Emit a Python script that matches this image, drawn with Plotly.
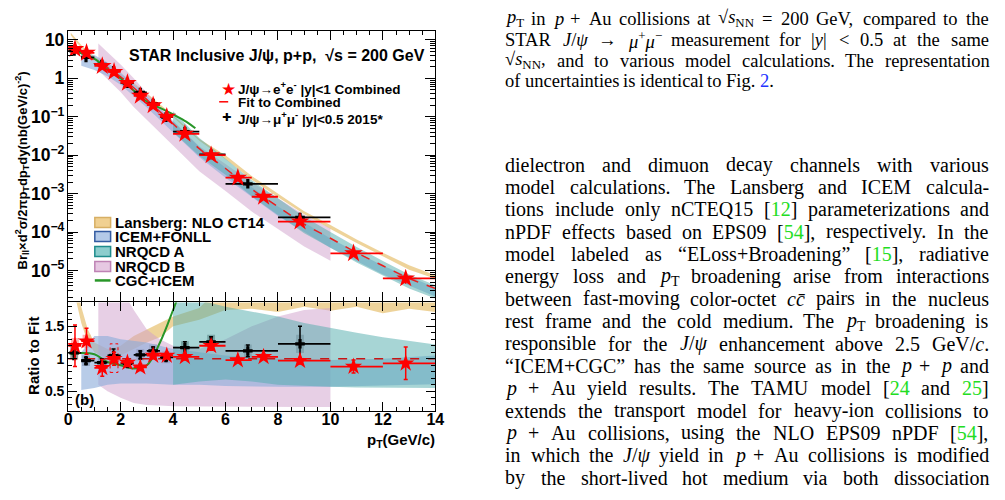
import re
import plotly.graph_objects as go

W, H = 1005, 500

# ---------------- data ----------------
# J/psi -> e+e- |y|<1 combined
ee_pt = [0.26, 0.70, 1.30, 1.75, 2.26, 2.75, 3.24, 3.76, 4.45, 5.45, 6.47, 7.45, 8.84, 10.88, 12.87]
ee_bin_lo = [0, 0.5, 1, 1.5, 2, 2.5, 3, 3.5, 4, 5, 6, 7, 8, 10, 12]
ee_bin_hi = [0.5, 1, 1.5, 2, 2.5, 3, 3.5, 4, 5, 6, 7, 8, 10, 12, 14]
ee_yield = [5.8, 4.6, 2.1, 1.47, 0.76, 0.35, 0.20, 0.10, 0.036, 0.010, 0.0026, 8.3e-4, 1.87e-4, 2.8e-5, 6.2e-6]
ee_stat = [1.5, 0.73, 0.32, 0.15, 0.049, 0.02, 0.0095, 0.0048, 0.0017, 5.8e-4, 1.1e-4, 3.2e-5, 9.7e-6, 3.2e-6, 1.7e-6]
ee_ratio = [1.20, 1.27, 0.86, 1.00, 0.94, 0.87, 1.05, 1.05, 1.03, 1.20, 0.98, 1.03, 0.97, 0.88, 0.93]
ee_ratio_stat = [0.32, 0.20, 0.13, 0.10, 0.06, 0.05, 0.05, 0.05, 0.05, 0.07, 0.04, 0.04, 0.05, 0.10, 0.25]
ee_ratio_sys = [0.12, 0.10, 0.08, 0.0, 0.06, 0.05, 0.06, 0.06, 0.06, 0.08, 0.05, 0.05, 0.05, 0.05, 0.06]
ee_dashed_pt = [1.75]
ee_dashed_lo = [0.79]
ee_dashed_hi = [1.23]

# J/psi -> mu+mu- |y|<0.5 2015
mm_pt = [0.23, 0.68, 1.28, 1.73, 2.26, 2.75, 3.24, 3.73, 4.45, 5.45, 6.85, 8.84]
mm_bin_lo = [0, 0.5, 1, 1.5, 2, 2.5, 3, 3.5, 4, 5, 6, 8]
mm_bin_hi = [0.5, 1, 1.5, 2, 2.5, 3, 3.5, 4, 5, 6, 8, 10]
mm_yield = [5.2, 3.5, 2.3, 1.58, 0.75, 0.43, 0.22, 0.098, 0.041, 0.0105, 0.0018, 2.4e-4]
mm_stat = [0.45, 0.18, 0.15, 0.15, 0.04, 0.025, 0.012, 0.005, 0.003, 7e-4, 1.5e-4, 5e-5]
mm_ratio = [1.09, 0.97, 0.94, 1.05, 0.93, 1.06, 1.12, 1.02, 1.17, 1.26, 1.12, 1.23]
mm_ratio_stat = [0.10, 0.05, 0.06, 0.10, 0.05, 0.06, 0.06, 0.05, 0.09, 0.08, 0.09, 0.27]
mm_ratio_sys = [0.10, 0.08, 0.08, 0.10, 0.07, 0.09, 0.10, 0.09, 0.10, 0.11, 0.10, 0.14]

# Fit to combined
fit_pt = [0, 0.25, 0.5, 0.75, 1, 1.5, 2, 2.5, 3, 3.5, 4, 5, 6, 7, 8, 9, 10, 11, 12, 13, 14]
fit_yield = [5.2, 4.8, 4.1, 3.55, 3.0, 1.9, 1.1, 0.57, 0.28, 0.135, 0.066, 0.0148, 0.0045, 0.0013,
             4.6e-4, 1.6e-4, 6.9e-5, 2.9e-5, 1.33e-5, 6.2e-6, 3.4e-6]
fit_ratio_pt = [0, 14]
fit_ratio = [1, 1]

# Lansberg: NLO CT14
lans_pt = [0.1, 0.3, 0.5, 0.75, 1.0, 1.5, 2, 2.5, 3, 3.5, 4, 5, 6, 7, 8, 9, 10, 11, 12, 13, 14]
lans_lo = [13.3, 8.9, 6.4, 4.4, 3.3, 1.9, 1.16, 0.66, 0.35, 0.18, 0.099, 0.0237, 0.0079, 0.0023,
           8.0e-4, 2.9e-4, 1.2e-4, 5.2e-5, 2.3e-5, 1.05e-5, 6.1e-6]
lans_hi = [15.3, 10.3, 7.4, 5.1, 3.75, 2.2, 1.32, 0.77, 0.41, 0.21, 0.109, 0.0263, 0.0099, 0.00286,
           1.01e-3, 3.5e-4, 1.52e-4, 6.4e-5, 2.9e-5, 1.36e-5, 7.5e-6]
lans_ratio_lo = [2.6, 1.9, 1.55, 1.25, 1.1, 1.0, 1.05, 1.15, 1.25, 1.33, 1.5, 1.6, 1.75, 1.77,
                 1.72, 1.8, 1.74, 1.8, 1.70, 1.77, 1.72]
lans_ratio_hi = [3.0, 2.2, 1.8, 1.45, 1.25, 1.15, 1.2, 1.35, 1.45, 1.55, 1.65, 1.78, 2.2, 2.2,
                 2.2, 2.2, 2.2, 2.2, 2.2, 2.2, 2.2]

# ICEM+FONLL
icem_pt = [0.5, 1, 1.5, 2, 3, 4, 5, 6, 8, 10, 12, 14]
icem_lo = [2.13, 1.65, 1.14, 0.68, 0.174, 0.040, 0.0089, 0.0026, 2.6e-4, 3.9e-5, 7.8e-6, 2.1e-6]
icem_hi = [4.5, 4.05, 2.57, 1.43, 0.35, 0.076, 0.0163, 0.0047, 4.6e-4, 6.8e-5, 1.33e-5, 3.6e-6]
icem_ratio_lo = [0.52, 0.55, 0.60, 0.62, 0.62, 0.60, 0.60, 0.58, 0.57, 0.57, 0.59, 0.61]
icem_ratio_hi = [1.10, 1.35, 1.35, 1.30, 1.25, 1.15, 1.10, 1.05, 1.00, 0.98, 1.00, 1.05]

# NRQCD A
nra_pt = [4, 5, 6, 7, 8, 9, 10, 11, 12, 13, 14]
nra_lo = [0.040, 0.0096, 0.0031, 8.5e-4, 2.76e-4, 9.3e-5, 3.9e-5, 1.62e-5, 7.4e-6, 3.4e-6, 1.87e-6]
nra_hi = [0.139, 0.028, 0.0081, 2.24e-3, 7.6e-4, 2.5e-4, 1.01e-4, 4.1e-5, 1.77e-5, 7.9e-6, 4.1e-6]
nra_ratio_lo = [0.60, 0.65, 0.68, 0.65, 0.60, 0.58, 0.57, 0.56, 0.56, 0.55, 0.55]
nra_ratio_hi = [2.1, 1.9, 1.8, 1.72, 1.65, 1.55, 1.47, 1.40, 1.33, 1.28, 1.22]

# NRQCD B
nrb_pt = [1.15, 1.5, 2, 2.5, 3, 3.5, 4, 5, 6, 7, 8, 9, 10]
nrb_lo = [1.62, 0.95, 0.44, 0.18, 0.084, 0.038, 0.0178, 0.00385, 0.00117, 3.4e-4, 1.2e-4, 4.2e-5, 1.8e-5]
nrb_hi = [8.1, 4.75, 2.3, 1.0, 0.41, 0.175, 0.079, 0.017, 0.0059, 0.00195, 7.6e-4, 2.8e-4, 1.23e-4]
nrb_ratio_lo = [0.60, 0.50, 0.40, 0.32, 0.29, 0.28, 0.27, 0.26, 0.26, 0.26, 0.26, 0.26, 0.26]
nrb_ratio_hi = [3.0, 2.5, 2.1, 1.75, 1.45, 1.30, 1.20, 1.15, 1.30, 1.50, 1.65, 1.75, 1.78]

# CGC+ICEM
cgc_pt = [0.1, 0.5, 1, 1.5, 2, 2.5, 3, 3.5, 4, 4.5, 4.85]
cgc_yield = [5.4, 4.5, 3.2, 1.8, 1.0, 0.48, 0.25, 0.17, 0.115, 0.075, 0.05]
cgc_ratio = [1.07, 1.09, 1.07, 0.95, 0.90, 0.85, 0.90, 1.25, 1.75, 2.3, 2.8]

x_tickvals = [0, 2, 4, 6, 8, 10, 12, 14]
ratio_tickvals = [0.5, 1, 1.5]
ratio_ticktext = ["0.5", "1", "1.5"]

# ---------------- styles ----------------
SANS = "Liberation Sans, Arial, sans-serif"
SERIF = "Liberation Serif, Times New Roman, serif"
C_LANS = "rgba(232,196,120,0.75)"
C_ICEM = "rgba(140,172,218,0.62)"
C_NRA = "rgba(80,172,172,0.50)"
C_NRB = "rgba(208,160,204,0.50)"
C_CGC = "rgb(40,150,40)"

fig = go.Figure()


def band(xs, lo, hi, color, xa, ya):
    fig.add_trace(go.Scatter(
        x=list(xs) + list(xs)[::-1], y=list(hi) + list(lo)[::-1],
        fill="toself", fillcolor=color, line=dict(width=0), mode="lines",
        xaxis=xa, yaxis=ya, hoverinfo="skip", showlegend=False))


# ---------- upper panel ----------
band(lans_pt, lans_lo, lans_hi, C_LANS, "x", "y")
band(nrb_pt, nrb_lo, nrb_hi, C_NRB, "x", "y")
band(icem_pt, icem_lo, icem_hi, C_ICEM, "x", "y")
band(nra_pt, nra_lo, nra_hi, C_NRA, "x", "y")
fig.add_trace(go.Scatter(x=cgc_pt, y=cgc_yield, mode="lines", line=dict(color=C_CGC, width=2, shape="spline"),
                         xaxis="x", yaxis="y", showlegend=False))
fig.add_trace(go.Scatter(x=fit_pt, y=fit_yield, mode="lines",
                         line=dict(color="rgb(235,30,30)", width=1.5, dash="dash", shape="spline"),
                         xaxis="x", yaxis="y", showlegend=False))
fig.add_trace(go.Scatter(
    x=mm_pt, y=mm_yield, mode="markers", xaxis="x", yaxis="y", showlegend=False,
    marker=dict(symbol="cross", size=8, color="black"),
    error_x=dict(type="data", symmetric=False, array=[h - p for h, p in zip(mm_bin_hi, mm_pt)],
                 arrayminus=[p - l for p, l in zip(mm_pt, mm_bin_lo)], width=0, thickness=1.8, color="black"),
    error_y=dict(type="data", array=mm_stat, width=0, thickness=1.5, color="black")))
fig.add_trace(go.Scatter(
    x=ee_pt, y=ee_yield, mode="markers", xaxis="x", yaxis="y", showlegend=False,
    marker=dict(symbol="star", size=14, color="rgb(255,0,0)"),
    error_x=dict(type="data", symmetric=False, array=[h - p for h, p in zip(ee_bin_hi, ee_pt)],
                 arrayminus=[p - l for p, l in zip(ee_pt, ee_bin_lo)], width=0, thickness=1.8, color="rgb(255,0,0)"),
    error_y=dict(type="data", array=ee_stat, width=0, thickness=1.5, color="rgb(255,0,0)")))

# ---------- lower (ratio) panel ----------
band(lans_pt, lans_ratio_lo, lans_ratio_hi, C_LANS, "x2", "y2")
band(nrb_pt, nrb_ratio_lo, nrb_ratio_hi, C_NRB, "x2", "y2")
band(icem_pt, icem_ratio_lo, icem_ratio_hi, C_ICEM, "x2", "y2")
band(nra_pt, nra_ratio_lo, nra_ratio_hi, C_NRA, "x2", "y2")
fig.add_trace(go.Scatter(x=cgc_pt, y=cgc_ratio, mode="lines", line=dict(color=C_CGC, width=2, shape="spline"),
                         xaxis="x2", yaxis="y2", showlegend=False))
fig.add_trace(go.Scatter(x=fit_ratio_pt, y=fit_ratio, mode="lines",
                         line=dict(color="rgb(200,20,20)", width=1.3, dash="dash"),
                         xaxis="x2", yaxis="y2", showlegend=False))
# systematic boxes
fig.add_trace(go.Bar(x=mm_pt, y=[2 * s for s in mm_ratio_sys], base=[r - s for r, s in zip(mm_ratio, mm_ratio_sys)],
                     width=0.3, marker=dict(color="rgba(40,40,40,0.45)", line=dict(width=0)),
                     xaxis="x2", yaxis="y2", showlegend=False, hoverinfo="skip"))
fig.add_trace(go.Bar(x=ee_pt, y=[2 * s for s in ee_ratio_sys], base=[r - s for r, s in zip(ee_ratio, ee_ratio_sys)],
                     width=0.3, marker=dict(color="rgba(255,60,60,0.40)", line=dict(width=0)),
                     xaxis="x2", yaxis="y2", showlegend=False, hoverinfo="skip"))
for p, lo, hi in zip(ee_dashed_pt, ee_dashed_lo, ee_dashed_hi):
    fig.add_trace(go.Scatter(x=[p - 0.15, p + 0.15, p + 0.15, p - 0.15, p - 0.15], y=[lo, lo, hi, hi, lo],
                             mode="lines", line=dict(color="red", width=1, dash="dot"),
                             xaxis="x2", yaxis="y2", showlegend=False, hoverinfo="skip"))
fig.add_trace(go.Scatter(
    x=mm_pt, y=mm_ratio, mode="markers", xaxis="x2", yaxis="y2", showlegend=False,
    marker=dict(symbol="cross", size=8, color="black"),
    error_x=dict(type="data", symmetric=False, array=[h - p for h, p in zip(mm_bin_hi, mm_pt)],
                 arrayminus=[p - l for p, l in zip(mm_pt, mm_bin_lo)], width=0, thickness=1.8, color="black"),
    error_y=dict(type="data", array=mm_ratio_stat, width=2, thickness=1.5, color="black")))
fig.add_trace(go.Scatter(
    x=ee_pt, y=ee_ratio, mode="markers", xaxis="x2", yaxis="y2", showlegend=False,
    marker=dict(symbol="star", size=13, color="rgb(255,0,0)"),
    error_x=dict(type="data", symmetric=False, array=[h - p for h, p in zip(ee_bin_hi, ee_pt)],
                 arrayminus=[p - l for p, l in zip(ee_pt, ee_bin_lo)], width=0, thickness=1.8, color="rgb(255,0,0)"),
    error_y=dict(type="data", array=ee_ratio_stat, width=2, thickness=1.5, color="rgb(255,0,0)")))

# ---------------- axes ----------------
XD = [65 / W, 437 / W]
tickfont = dict(family=SANS, size=14, color="black", weight="bold")
common = dict(showline=True, linecolor="black", linewidth=1, mirror="ticks", ticks="inside",
              tickcolor="black", showgrid=False, zeroline=False)
fig.update_layout(
    width=W, height=H, margin=dict(l=0, r=0, t=0, b=0),
    paper_bgcolor="white", plot_bgcolor="white", barmode="overlay", showlegend=False,
    xaxis=dict(domain=XD, range=[0, 14], anchor="y", tickvals=x_tickvals, showticklabels=False, ticklen=9,
               minor=dict(ticks="inside", ticklen=4, dtick=0.5, tickcolor="black"), **common),
    yaxis=dict(domain=[1 - 301 / H, 1 - 30 / H], type="log", range=[-5.805, 1.234], anchor="x",
               dtick=1, exponentformat="power", ticklen=10, tickfont=tickfont,
               minor=dict(ticks="inside", ticklen=5, dtick="D1", tickcolor="black"), **common),
    xaxis2=dict(domain=XD, range=[0, 14], anchor="y2", tickvals=x_tickvals, ticklen=9, ticklabelstandoff=-6,
                tickfont=dict(family=SANS, size=16, color="black", weight="bold"),
                minor=dict(ticks="inside", ticklen=4, dtick=0.5, tickcolor="black"), **common),
    yaxis2=dict(domain=[1 - 411 / H, 1 - 302 / H], range=[0.194, 1.867], anchor="x2",
                tickvals=ratio_tickvals, ticktext=ratio_ticktext, ticklen=9, tickfont=tickfont,
                minor=dict(ticks="inside", ticklen=4, dtick=0.1, tickcolor="black"), **common),
)


# ---------------- text helpers ----------------
def ann(x, y, text, size, xanchor="left", color="black", family=SANS, bold=True, angle=0):
    fig.add_annotation(x=x / W, y=1 - y / H, xref="paper", yref="paper", text=text, showarrow=False,
                       xanchor=xanchor, yanchor="middle", textangle=angle, borderpad=0, borderwidth=0,
                       font=dict(family=family, size=size, color=color, weight="bold" if bold else "normal"))


# plot labels
ann(18, 170, "Br<sub>ll</sub>×d<sup>2</sup>σ/2πp<sub>T</sub>dp<sub>T</sub>dy(nb(GeV/c)<sup>-2</sup>)", 13,
    xanchor="center", angle=-90)
ann(30, 356, "Ratio to Fit", 15, xanchor="center", angle=-90)
ann(437, 440, "p<sub>T</sub>(GeV/c)", 15, xanchor="right")
ann(72, 399, "(b)", 15)
ann(277, 55, "STAR Inclusive J/ψ, p+p,  √s = 200 GeV", 16, xanchor="center")

# data legend
ann(227, 88, "★", 17, xanchor="center", color="red", family="DejaVu Sans", bold=False)
ann(237, 87, "J/ψ→e<sup>+</sup>e<sup>-</sup> |y|&lt;1 Combined", 13.5)
fig.add_shape(type="line", xref="paper", yref="paper", x0=218 / W, x1=233 / W, y0=1 - 101 / H, y1=1 - 101 / H,
              line=dict(color="red", width=1.5, dash="dash"))
ann(237, 102, "Fit to Combined", 13.5)
ann(225, 117, "✚", 11, xanchor="center", family="DejaVu Sans", bold=False)
ann(237, 117, "J/ψ→μ<sup>+</sup>μ<sup>-</sup> |y|&lt;0.5 2015*", 13.5)

# model legend
leg = [("Lansberg: NLO CT14", "rgb(240,208,145)", "rgb(215,175,100)", 222),
       ("ICEM+FONLL", "rgb(180,202,232)", "rgb(50,90,160)", 236),
       ("NRQCD A", "rgb(140,205,205)", "rgb(30,140,140)", 251),
       ("NRQCD B", "rgb(230,200,226)", "rgb(190,130,180)", 266)]
for name, fc, lc, yc in leg:
    fig.add_shape(type="rect", xref="paper", yref="paper", x0=92 / W, x1=108 / W,
                  y0=1 - (yc + 5) / H, y1=1 - (yc - 5) / H, fillcolor=fc, line=dict(color=lc, width=1.5))
    ann(112, yc, name, 15)
fig.add_shape(type="line", xref="paper", yref="paper", x0=92 / W, x1=108 / W, y0=1 - 280 / H, y1=1 - 280 / H,
              line=dict(color=C_CGC, width=2.5))
ann(112, 280, "CGC+ICEM", 15)

# ---------------- right column (paper text) ----------------
CW = {}
for ch, w in zip("abcdefghijklmnopqrstuvwxyz",
                 [444, 500, 444, 500, 444, 333, 500, 500, 278, 278, 500, 278, 778, 500, 500, 500, 500, 333, 389,
                  278, 500, 500, 722, 500, 500, 444]):
    CW[ch] = w
for ch, w in zip("ABCDEFGHIJKLMNOPQRSTUVWXYZ",
                 [722, 667, 667, 722, 611, 556, 722, 722, 333, 389, 722, 611, 889, 722, 722, 556, 722, 667, 556,
                  611, 722, 722, 944, 722, 722, 611]):
    CW[ch] = w
for ch in "0123456789":
    CW[ch] = 500
CW.update({" ": 250, ".": 250, ",": 250, "-": 333, "[": 333, "]": 333, "(": 333, ")": 333, "/": 278,
           "+": 564, "=": 564, "<": 564, "|": 200, "“": 444, "”": 444, "ψ": 686, "μ": 500, "→": 1000,
           "√": 549, "−": 564, "\u0304": 0, ":": 278})

GREEN = "<span style='color:#22dd22'>"
BLUE = "<span style='color:#2233ff'>"


def render(word):
    return word.replace("{g}", GREEN).replace("{b}", BLUE).replace("{/}", "</span>")


def width(word, size):
    s = word.replace("{g}", "").replace("{b}", "").replace("{/}", "").replace("&lt;", "<")
    total, scale = 0.0, 1.0
    for tok in re.split(r"(<[^>]+>)", s):
        if tok.startswith("<") and tok.endswith(">") and len(tok) > 2:
            t = tok.lower()
            if t in ("<sub>", "<sup>"):
                scale = 0.7
            elif t in ("</sub>", "</sup>"):
                scale = 1.0
            continue
        for ch in tok:
            total += CW.get(ch, 500) * scale
    return total * size / 1000.0


def text_line(line, y, size, x0=508, x1=997, justify=True):
    words = line.split(" ")
    ws = [width(w, size) for w in words]
    if justify and len(words) > 1:
        gap = (x1 - x0 - sum(ws)) / (len(words) - 1)
    else:
        gap = 0.25 * size
    x = x0
    for w, wd in zip(words, ws):
        ann(x, y, render(w), size, family=SERIF, bold=False)
        x += wd + gap


caption_lines = [
    "<i>p</i><sub>T</sub> in <i>p</i> + Au collisions at √<i>s</i><sub>NN</sub> = 200 GeV, compared to the",
    "STAR <i>J</i>/<i>ψ</i> → <i>μ</i><sup>+</sup><i>μ</i><sup>−</sup> measurement for |<i>y</i>| &lt; 0.5 at the same",
    "√<i>s</i><sub>NN</sub>, and to various model calculations. The representation",
    "of uncertainties is identical to Fig. {b}2{/}.",
]
caption_y = [18, 39, 60, 80]
for i, (ln, yy) in enumerate(zip(caption_lines, caption_y)):
    text_line(ln, yy, 18.5, justify=(i < len(caption_lines) - 1))

body_lines = [
    "dielectron and dimuon decay channels with various",
    "model calculations. The Lansberg and ICEM calcula-",
    "tions include only nCTEQ15 [{g}12{/}] parameterizations and",
    "nPDF effects based on EPS09 [{g}54{/}], respectively. In the",
    "model labeled as “ELoss+Broadening” [{g}15{/}], radiative",
    "energy loss and <i>p</i><sub>T</sub> broadening arise from interactions",
    "between fast-moving color-octet <i>cc̄</i> pairs in the nucleus",
    "rest frame and the cold medium. The <i>p</i><sub>T</sub> broadening is",
    "responsible for the <i>J</i>/<i>ψ</i> enhancement above 2.5 GeV/<i>c</i>.",
    "“ICEM+CGC” has the same source as in the <i>p</i> + <i>p</i> and",
    "<i>p</i> + Au yield results. The TAMU model [{g}24{/} and {g}25{/}]",
    "extends the transport model for heavy-ion collisions to",
    "<i>p</i> + Au collisions, using the NLO EPS09 nPDF [{g}54{/}],",
    "in which the <i>J</i>/<i>ψ</i> yield in <i>p</i> + Au collisions is modified",
    "by the short-lived hot medium via both dissociation",
]
for i, ln in enumerate(body_lines):
    text_line(ln, 164 + 22.4 * i, 20)

fig.write_html("out.html")
